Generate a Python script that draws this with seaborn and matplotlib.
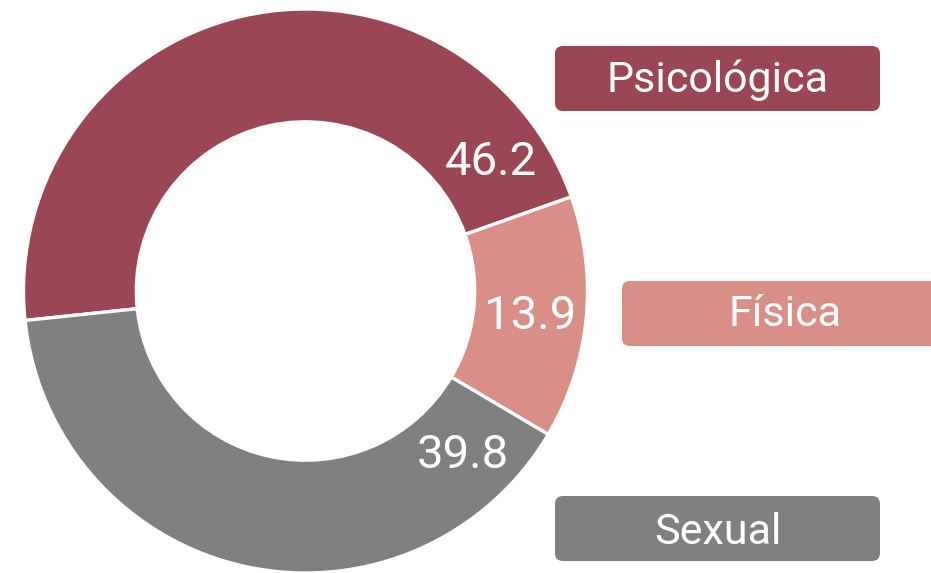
import matplotlib
matplotlib.use("Agg")
import matplotlib.pyplot as plt
import seaborn as sns
import numpy as np
from matplotlib.patches import FancyBboxPatch

categories = ["Psicológica", "Física", "Sexual"]
values = [46.2, 13.9, 39.8]
value_labels = ["46.2", "13.9", "39.8"]
colors = ["#9b4654", "#d98f88", "#808080"]

sns.set_style("white")
plt.rcParams['font.family'] = ['Roboto', 'DejaVu Sans']

W, H = 931, 573
fig = plt.figure(figsize=(W / 100, H / 100), dpi=100)
ax = fig.add_axes([0, 0, 1, 1])

cx, cy, R = 305.5, 282, 282
ax.pie(values, colors=colors, startangle=186, counterclock=False,
       center=(cx, cy), radius=R,
       wedgeprops=dict(width=R * 0.4, edgecolor='white', linewidth=2.4))
ax.set_xlim(0, W)
ax.set_ylim(0, H)
ax.set_aspect('equal')
ax.axis('off')

label_angles = [35, -6, -46]
label_r = 226
for lab, ang in zip(value_labels, label_angles):
    a = np.deg2rad(ang)
    ax.text(cx + label_r * np.cos(a), cy + label_r * np.sin(a) - 1, lab,
            ha='center', va='center', color='white', fontsize=34)

boxes = [(555, 462, 493), (622, 227, 258), (555, 12, 41)]
bw, bh = 325, 65
for (bx, by, ty), cat, col in zip(boxes, categories, colors):
    p = FancyBboxPatch((bx + 8, by + 8), bw - 16, bh - 16,
                       boxstyle="round,pad=8", facecolor=col, edgecolor='none',
                       clip_on=False)
    ax.add_patch(p)
    ax.text(bx + bw / 2, ty, cat, ha='center', va='center', color='white', fontsize=31)

fig.savefig("out.png", dpi=100)
